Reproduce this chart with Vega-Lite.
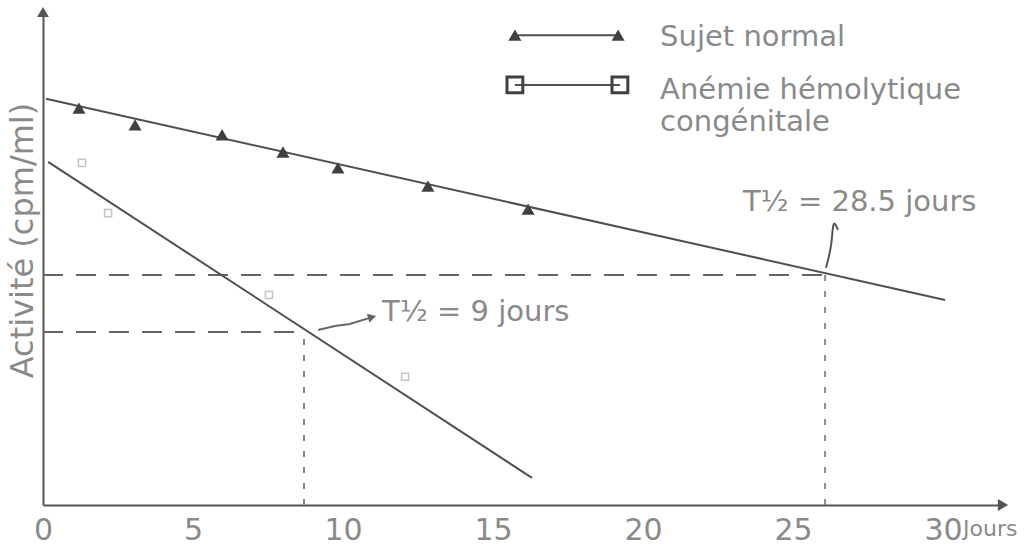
{
  "$schema": "https://vega.github.io/schema/vega-lite/v6.json",
  "width": 960,
  "height": 493,
  "autosize": {"type": "none"},
  "padding": {"left": 43, "top": 12, "right": 28, "bottom": 44},
  "background": "white",
  "config": {"view": {"stroke": null}, "font": "DejaVu Sans"},
  "datasets": {
    "normal_line": [{"j": 0.1, "a": 82.4}, {"j": 30.07, "a": 41.6}],
    "normal_pts": [
      {"j": 1.2, "a": 80.5}, {"j": 3.07, "a": 77.1}, {"j": 5.97, "a": 75.1},
      {"j": 8.0, "a": 71.6}, {"j": 9.83, "a": 68.4}, {"j": 12.83, "a": 64.7},
      {"j": 16.17, "a": 60.0}
    ],
    "hemo_line": [{"j": 0.17, "a": 69.6}, {"j": 16.3, "a": 5.5}],
    "hemo_pts": [
      {"j": 1.3, "a": 69.4}, {"j": 2.17, "a": 59.2}, {"j": 7.53, "a": 42.6}, {"j": 12.07, "a": 26.0}
    ],
    "hdash": [{"j": 0, "j2": 26.07, "a": 46.65}, {"j": 0, "j2": 8.7, "a": 35.1}],
    "vdash": [{"j": 8.7, "a": 0, "a2": 35.1}, {"j": 26.07, "a": 0, "a2": 46.65}],
    "ticks": [
      {"j": 1, "k": "minor"}, {"j": 2, "k": "minor"}, {"j": 3, "k": "minor"}, {"j": 4, "k": "minor"},
      {"j": 5, "k": "major"}, {"j": 6, "k": "minor"}, {"j": 7, "k": "minor"}, {"j": 8, "k": "minor"},
      {"j": 9, "k": "minor"}, {"j": 10, "k": "major"}, {"j": 11, "k": "minor"}, {"j": 12, "k": "minor"},
      {"j": 13, "k": "minor"}, {"j": 14, "k": "minor"}, {"j": 15, "k": "major"}, {"j": 16, "k": "minor"},
      {"j": 17, "k": "minor"}, {"j": 18, "k": "minor"}, {"j": 19, "k": "minor"}, {"j": 20, "k": "major"},
      {"j": 21, "k": "minor"}, {"j": 22, "k": "minor"}, {"j": 23, "k": "minor"}, {"j": 24, "k": "minor"},
      {"j": 25, "k": "major"}, {"j": 26, "k": "minor"}, {"j": 27, "k": "minor"}, {"j": 28, "k": "minor"},
      {"j": 29, "k": "minor"}, {"j": 30, "k": "major"}
    ],
    "arrow9": [{"j": 9.17, "a": 35.5}, {"j": 9.73, "a": 36.3}, {"j": 10.23, "a": 36.7}, {"j": 10.97, "a": 38.1}],
    "curl": [{"j": 26.33, "a": 58.2}, {"j": 26.5, "a": 55.8}, {"j": 26.3, "a": 52.7}, {"j": 26.1, "a": 48.1}],
    "legend_lines": [
      {"j": 15.73, "a": 95.3, "s": "normal"}, {"j": 19.17, "a": 95.3, "s": "normal"},
      {"j": 15.73, "a": 85.2, "s": "hemo"}, {"j": 19.23, "a": 85.2, "s": "hemo"}
    ],
    "texts": [
      {"j": 20.57, "a": 94.9, "t": "Sujet normal"},
      {"j": 20.57, "a": 84.2, "t": "Anémie  hémolytique"},
      {"j": 20.57, "a": 77.7, "t": "congénitale"},
      {"j": 11.3, "a": 39.1, "t": "T½ = 9 jours"},
      {"j": 23.33, "a": 61.5, "t": "T½ = 28.5 jours"}
    ],
    "arrows": [{"j": 32, "a": 0, "d": "x"}, {"j": 0, "a": 100, "d": "y"}]
  },
  "encoding": {
    "x": {
      "field": "j", "type": "quantitative",
      "scale": {"domain": [0, 32], "nice": false, "zero": false},
      "axis": {
        "values": [0, 5, 10, 15, 20, 25, 30], "ticks": false, "grid": false,
        "domainColor": "#555", "domainWidth": 2, "labelFontSize": 30,
        "labelColor": "#8a8a8a", "labelPadding": 10, "title": null, "labelFlush": false
      }
    },
    "y": {
      "field": "a", "type": "quantitative",
      "scale": {"domain": [0, 100], "nice": false},
      "axis": {
        "labels": false, "ticks": false, "grid": false, "domainColor": "#555", "domainWidth": 2,
        "title": "Activité (cpm/ml)", "titleFontSize": 32, "titleColor": "#8a8a8a",
        "titleFontWeight": "normal", "titleX": -21, "titleY": 228, "titleAngle": -90,
        "titleAlign": "center", "titleBaseline": "middle"
      }
    }
  },
  "layer": [
    {"data": {"name": "hdash"}, "mark": {"type": "rule", "color": "#666", "strokeWidth": 2, "strokeDash": [20, 13]},
     "encoding": {"x2": {"field": "j2"}}},
    {"data": {"name": "vdash"}, "mark": {"type": "rule", "color": "#888", "strokeWidth": 2, "strokeDash": [6, 10]},
     "encoding": {"y2": {"field": "a2"}}},
    {"data": {"name": "ticks"}, "transform": [{"filter": "datum.k == 'minor'"}],
     "mark": {"type": "rule", "color": "#777", "strokeWidth": 1.5},
     "encoding": {"y": {"datum": 0}, "y2": {"datum": 1.6}}},
    {"data": {"name": "ticks"}, "transform": [{"filter": "datum.k == 'major'"}],
     "mark": {"type": "rule", "color": "#777", "strokeWidth": 1.5},
     "encoding": {"y": {"datum": 0}, "y2": {"datum": 3}}},
    {"data": {"name": "normal_line"}, "mark": {"type": "line", "color": "#505050", "strokeWidth": 2}, "encoding": {}},
    {"data": {"name": "normal_pts"}, "mark": {"type": "point", "shape": "triangle-up", "filled": true, "color": "#404040", "size": 170, "opacity": 1}},
    {"data": {"name": "hemo_line"}, "mark": {"type": "line", "color": "#505050", "strokeWidth": 2}, "encoding": {}},
    {"data": {"name": "hemo_pts"}, "mark": {"type": "point", "shape": "square", "filled": false, "color": "#c4c4c4", "size": 50, "strokeWidth": 1.5, "opacity": 1}},
    {"data": {"name": "arrow9"}, "mark": {"type": "line", "color": "#666", "strokeWidth": 2}, "encoding": {}},
    {"data": {"name": "arrow9"}, "transform": [{"filter": "datum.j > 10.5"}],
     "mark": {"type": "point", "shape": "triangle-right", "filled": true, "color": "#666", "size": 90, "angle": -15, "opacity": 1}},
    {"data": {"name": "curl"}, "mark": {"type": "line", "color": "#555", "strokeWidth": 2, "interpolate": "basis"}, "encoding": {}},
    {"data": {"name": "legend_lines"}, "mark": {"type": "line", "color": "#505050", "strokeWidth": 2},
     "encoding": {"detail": {"field": "s"}}},
    {"data": {"name": "legend_lines"}, "transform": [{"filter": "datum.s == 'normal'"}],
     "mark": {"type": "point", "shape": "triangle-up", "filled": true, "color": "#404040", "size": 170, "opacity": 1}},
    {"data": {"name": "legend_lines"}, "transform": [{"filter": "datum.s == 'hemo'"}],
     "mark": {"type": "point", "shape": "square", "filled": false, "color": "#404040", "size": 250, "strokeWidth": 3, "opacity": 1}},
    {"data": {"name": "texts"}, "mark": {"type": "text", "align": "left", "baseline": "middle", "fontSize": 29, "color": "#8a8a8a"},
     "encoding": {"text": {"field": "t"}}},
    {"data": {"values": [{"j": 30, "a": -6.3, "t": "Jours"}]},
     "mark": {"type": "text", "align": "left", "baseline": "alphabetic", "fontSize": 22, "color": "#8a8a8a", "dx": 20},
     "encoding": {"text": {"field": "t"}}},
    {"data": {"name": "arrows"}, "transform": [{"filter": "datum.d == 'x'"}],
     "mark": {"type": "point", "shape": "triangle-right", "filled": true, "color": "#555", "size": 140, "opacity": 1}},
    {"data": {"name": "arrows"}, "transform": [{"filter": "datum.d == 'y'"}],
     "mark": {"type": "point", "shape": "triangle-up", "filled": true, "color": "#555", "size": 140, "opacity": 1}}
  ]
}
